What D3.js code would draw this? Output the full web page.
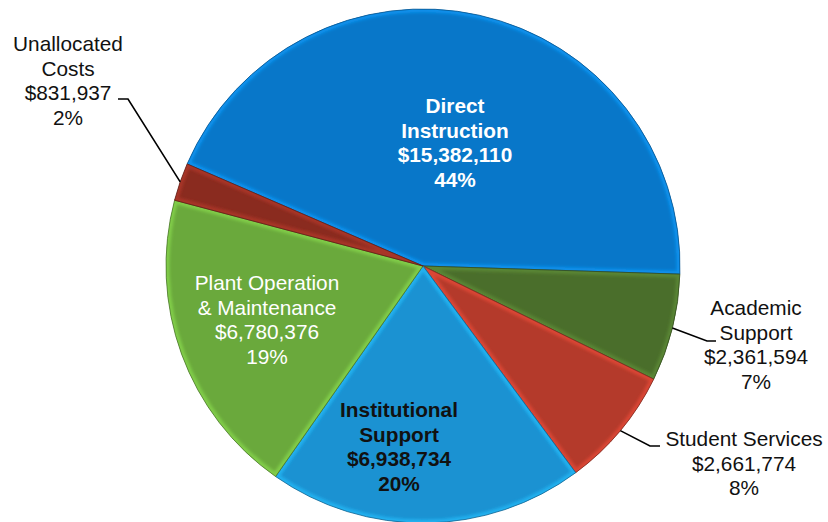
<!DOCTYPE html>
<html>
<head>
<meta charset="utf-8">
<script src="https://cdn.jsdelivr.net/npm/d3@7"></script>
<style>
  body { margin: 0; background: #fff; }
  text { font-family: 'Liberation Sans', Arial, sans-serif; }
</style>
</head>
<body>
<svg width="828" height="522"></svg>
<script>
// chart data
const categories = ['Direct Instruction', 'Academic Support', 'Student Services',
  'Institutional Support', 'Plant Operation & Maintenance', 'Unallocated Costs'];
const amounts = [15382110, 2361594, 2661774, 6938734, 6780376, 831937];
const nameLines = [['Direct', 'Instruction'], ['Academic', 'Support'], ['Student Services'],
  ['Institutional', 'Support'], ['Plant Operation', '& Maintenance'], ['Unallocated', 'Costs']];
const colors = ['#0877c9', '#4a6e2b', '#b43a2b', '#1b92d2', '#6aa93c', '#8a2b1f'];

const svg = d3.select('svg');
const width = +svg.attr('width');
const height = +svg.attr('height');

const cx = 423, cy = 266, radius = 257;
const start = -66.6 * Math.PI / 180;

// label layout (x center, y of first line center, colour, weight, leader)
const labelLayout = {
  'Direct Instruction': { x: 455, y: 106, fill: '#fff', weight: 'bold' },
  'Academic Support': { x: 756, y: 308, fill: '#111', weight: 'normal', elbow: [707, 341], end: [716, 341] },
  'Student Services': { x: 744, y: 439, fill: '#111', weight: 'normal', elbow: [650, 446], end: [660, 446] },
  'Institutional Support': { x: 399, y: 410, fill: '#111', weight: 'bold' },
  'Plant Operation & Maintenance': { x: 267, y: 283, fill: '#fff', weight: 'normal' },
  'Unallocated Costs': { x: 68, y: 44, fill: '#111', weight: 'normal', elbow: [128, 99], end: [118, 99] }
};
const lineGap = 24.5;

const data = categories.map((c, i) => ({ name: c, value: amounts[i], lines: nameLines[i], color: colors[i] }));
const total = d3.sum(amounts);
const money = d3.format('$,');

const pie = d3.pie().value(d => d.value).sort(null)
  .startAngle(start).endAngle(start + 2 * Math.PI);
const arc = d3.arc().innerRadius(0).outerRadius(radius);
const arcs = pie(data);

const defs = svg.append('defs');
defs.selectAll('clipPath').data(arcs).enter().append('clipPath')
  .attr('id', (d, i) => 'clip' + i)
  .append('path')
    .attr('d', arc);

const blur = defs.append('filter').attr('id', 'soft');
blur.append('feGaussianBlur').attr('stdDeviation', 1.6);

const g = svg.append('g').attr('transform', `translate(${cx},${cy})`);

const slices = g.selectAll('g.slice').data(arcs).enter().append('g')
  .attr('class', 'slice');

slices.append('path')
  .attr('d', arc)
  .attr('fill', d => d.data.color);

// bevel highlight inside each slice edge
slices.append('g')
  .attr('clip-path', (d, i) => `url(#clip${i})`)
  .append('path')
    .attr('d', arc)
    .attr('fill', 'none')
    .attr('stroke', d => d3.color(d.data.color).brighter(0.8))
    .attr('stroke-width', 7)
    .attr('stroke-opacity', 0.65)
    .attr('filter', 'url(#soft)');

slices.append('path')
  .attr('d', arc)
  .attr('fill', 'none')
  .attr('stroke', d => d3.color(d.data.color).darker(1))
  .attr('stroke-width', 0.8);

// leader lines
arcs.forEach(d => {
  const lay = labelLayout[d.data.name];
  if (!lay.elbow) return;
  const a = (d.startAngle + d.endAngle) / 2;
  const p0 = [cx + radius * Math.sin(a), cy - radius * Math.cos(a)];
  svg.append('polyline')
    .attr('points', [p0, lay.elbow, lay.end].map(p => p.join(',')).join(' '))
    .attr('fill', 'none')
    .attr('stroke', '#000')
    .attr('stroke-width', 1.6);
});

// labels
arcs.forEach(d => {
  const lay = labelLayout[d.data.name];
  const lines = d.data.lines.concat([money(d.data.value), Math.round(d.data.value / total * 100) + '%']);
  const t = svg.append('text')
    .attr('text-anchor', 'middle')
    .attr('font-size', 20.8)
    .attr('font-weight', lay.weight)
    .attr('fill', lay.fill);
  lines.forEach((s, i) => {
    t.append('tspan')
      .attr('x', lay.x)
      .attr('y', lay.y + i * lineGap)
      .attr('dy', '0.35em')
      .text(s);
  });
});
</script>
</body>
</html>
